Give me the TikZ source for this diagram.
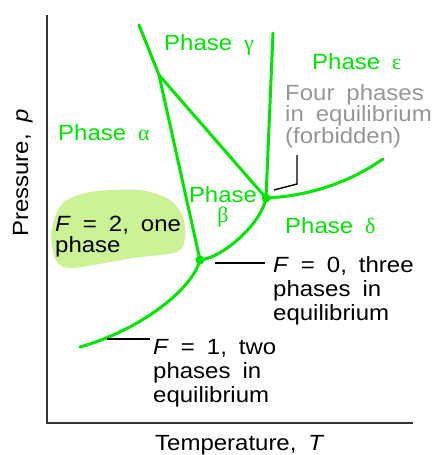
\documentclass[tikz,border=0pt]{standalone}
\usepackage{fontspec}
\setmainfont{Liberation Sans}[FakeStretch=1.09,WordSpace=1.8]
\newfontfamily\grk{Liberation Serif}
\usepackage{tikz,xcolor}
\usetikzlibrary{calc}
\definecolor{phgreen}{RGB}{0,230,0}
\definecolor{blobgreen}{RGB}{204,242,150}
\definecolor{forbgray}{RGB}{150,150,150}
\tikzset{
  bound/.style={phgreen,line width=3pt,line cap=round},
  leader/.style={black,line width=1.4pt},
  phlabel/.style={phgreen,inner sep=0pt,anchor=base west},
  txt/.style={inner sep=0pt,anchor=north west,align=left},
}

\begin{document}
\begin{tikzpicture}[x=1pt,y=-1pt,font=\fontsize{22}{24}\selectfont]
  \useasboundingbox (0,0) rectangle (435,455);
  \draw[line width=2pt,black!80] (47,15) -- (47,423) -- (413,423);
  \fill[blobgreen] plot[smooth cycle] coordinates {(52,227) (63,203) (90,192) (140,190) (170,200) (183,217) (185,237) (177,252) (133,258) (73,268) (57,262) (52,247)};

  \coordinate (gtop) at (139,25);
  \coordinate (kink) at (159,75);
  \coordinate (tp) at (200,260);
  \coordinate (qp) at (266,198);
  \coordinate (ctop) at (273,33);
  \coordinate (eend) at (383,159);
  \coordinate (lend) at (80,347);
  \coordinate (fonetip) at (107,339);

  \draw[bound] (gtop) -- (kink) -- (tp);
  \draw[bound] (kink) -- (qp);
  \draw[bound] (ctop) -- (qp);
  \draw[bound] (qp) .. controls (310,196) and (350,182) .. (eend);
  \draw[bound] (tp) .. controls (225,257) and (262,222) .. (qp);
  \draw[bound] (tp) .. controls (192,290) and (140,330) .. (lend);
  \fill[phgreen] (tp) circle (4.5);
  \fill[phgreen] (qp) circle (4.5);

  \node[phlabel] (gamma) at (164,50) {Phase {\grk γ}};
  \node[phlabel] (eps) at (312,69) {Phase {\grk ε}};
  \node[phlabel] (alpha) at (58,140) {Phase {\grk α}};
  \node[phlabel] (delta) at (285,233) {Phase {\grk δ}};
  \node[phgreen,inner sep=0pt,anchor=north,align=center,font=\fontsize{22}{20}\selectfont] (beta) at (223,186) {Phase\\{\grk β}};

  \node[txt,forbgray,font=\fontsize{22}{21.5}\selectfont] (four) at (285,84) {Four phases\\in equilibrium\\(forbidden)};
  \node[txt,font=\fontsize{22}{21}\selectfont] (ftwo) at (55,216) {\textit{F} = 2, one\\phase};
  \node[txt] (fzero) at (273,256) {\textit{F} = 0, three\\phases in\\equilibrium};
  \node[txt] (fone) at (153,339) {\textit{F} = 1, two\\phases in\\equilibrium};

  \draw[leader] ($(tp)+(15,3)$) -- ($(fzero.north west)+(-8,7)$);
  \draw[leader] (fonetip) -- ($(fone.north west)+(-3,0)$);
  \draw[leader] ($(qp)+(8,-8)$) -- ($(qp)+(31,-14)$) -- ($(qp)+(31,-43)$);

  \node[inner sep=0pt,anchor=base west,rotate=90] (pres) at (28,237) {Pressure, \textit{p}};
  \node[inner sep=0pt,anchor=base west] (temp) at (155,450) {Temperature, \textit{T}};
\end{tikzpicture}
\end{document}
